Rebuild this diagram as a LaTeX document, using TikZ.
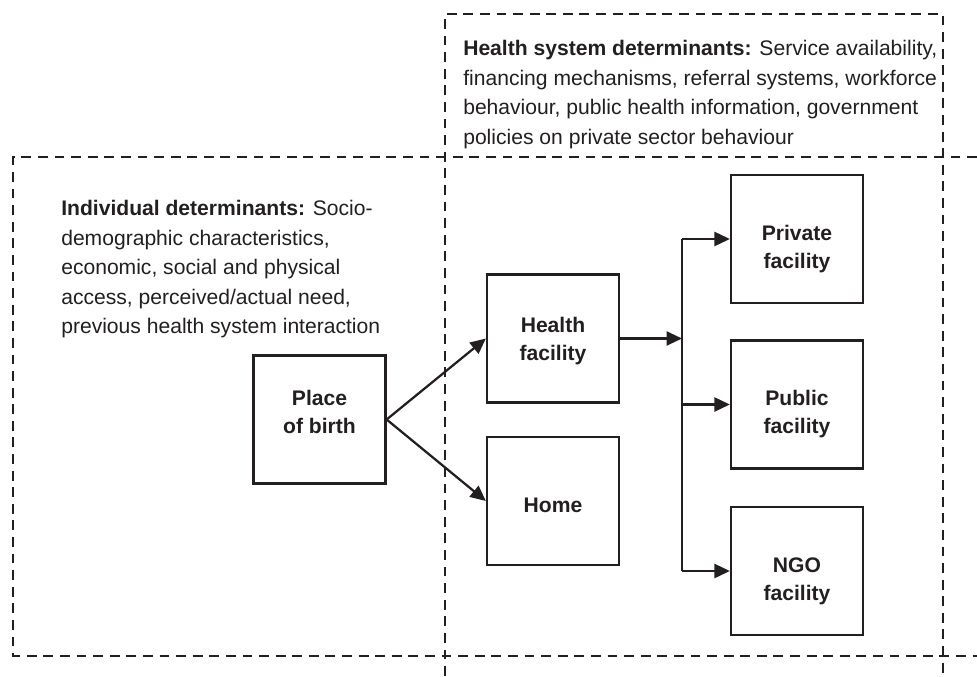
\documentclass[tikz,border=0pt]{standalone}
\usepackage{fontspec}
\setmainfont{Liberation Sans}
\usepackage{tikz}
\usetikzlibrary{arrows.meta}
\definecolor{ink}{RGB}{35,31,32}
\tikzset{
  place/.style={draw=ink, line width=1.6pt, minimum width=3.3cm, minimum height=3.2cm,
    align=center, text=ink, font=\bfseries\fontsize{15}{20}\selectfont},
  zone/.style={draw=ink, line width=1.6pt, dash pattern=on 7pt off 4.8pt},
  arr/.style={draw=ink, line width=1.6pt, -{Triangle[length=11pt,width=10pt]}},
  note/.style={anchor=north west, align=left, inner sep=0pt, text=ink,
    font=\fontsize{15}{21}\selectfont}
}

\begin{document}
\begin{tikzpicture}[x=0.025cm,y=-0.025cm]
\useasboundingbox (0,0) rectangle (977,676);
% dashed zones
\draw [zone] (977,157) -- (13,157) -- (13,656) -- (977,656);
\draw [zone] (445,676) -- (445,14) -- (943,14) -- (943,676);
\node [note] (indiv) at (61,200) {\textbf{Individual determinants:} Socio-\\
  demographic characteristics,\\
  economic, social and physical\\
  access, perceived/actual need,\\
  previous health system interaction};
\node [note] (hsys) at (463,40) {\textbf{Health system determinants:} Service availability,\\
  financing mechanisms, referral systems, workforce\\
  behaviour, public health information, government\\
  policies on private sector behaviour};
% boxes
\node [place] (birth) at (319.5,419.5) {Place\\of birth\rule[-11.4pt]{0pt}{0pt}};
\node [place] (hfac) at (553,338.5) {\rule{0pt}{15pt}Health\\facility};
\node [place] (home) at (553,501) {\rule{0pt}{16.6pt}Home};
\node [place] (priv) at (797,239) {\rule{0pt}{25pt}Private\\facility};
\node [place] (pub) at (797,404.5) {\rule{0pt}{24pt}Public\\facility};
\node [place] (ngo) at (797,571) {\rule{0pt}{25pt}NGO\\facility};
\coordinate (split) at (682,338.5);
% arrows
\draw [arr] (birth.east) -- (hfac.west);
\draw [arr] (birth.east) -- (home.west);
\draw [arr] (hfac.east) -- (split);
\draw [draw=ink, line width=1.6pt] (split |- priv.west) -- (split |- ngo.west);
\draw [arr] (split |- priv.west) -- (priv.west);
\draw [arr] (split |- pub.west) -- (pub.west);
\draw [arr] (split |- ngo.west) -- (ngo.west);

\end{tikzpicture}
\end{document}
